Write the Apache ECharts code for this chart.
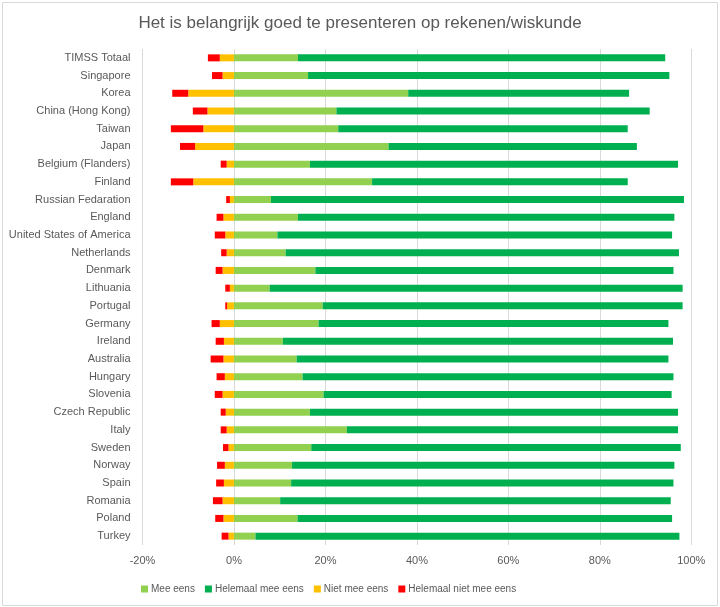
<!DOCTYPE html>
<html>
<head>
<meta charset="utf-8">
<script src="https://cdn.jsdelivr.net/npm/echarts@6/dist/echarts.min.js"></script>
<style>html,body{margin:0;padding:0;background:#fff}#c{width:720px;height:607px}</style>
</head>
<body>
<div id="c"></div>
<script>
const categories = ["TIMSS Totaal","Singapore","Korea","China (Hong Kong)","Taiwan","Japan","Belgium (Flanders)","Finland","Russian Fedaration","England","United States of America","Netherlands","Denmark","Lithuania","Portugal","Germany","Ireland","Australia","Hungary","Slovenia","Czech Republic","Italy","Sweden","Norway","Spain","Romania","Poland","Turkey"];
const meeEens = [14.0,16.2,38.1,22.4,22.8,33.8,16.6,30.2,8.1,14.0,9.5,11.3,17.8,7.8,19.4,18.5,10.7,13.7,15.0,19.6,16.6,24.7,16.9,12.7,12.5,10.1,13.9,4.7];
const helemaalMeeEens = [80.3,79.0,48.3,68.5,63.3,54.3,80.5,55.9,90.3,82.3,86.3,86.0,78.3,90.3,78.7,76.5,85.3,81.3,81.1,76.1,80.5,72.4,80.8,83.6,83.6,85.4,81.9,92.7];
const nietMeeEens = [3.1,2.5,10.0,5.8,6.7,8.5,1.6,8.9,0.9,2.3,1.9,1.6,2.5,0.9,1.5,3.1,2.2,2.3,2.0,2.5,1.8,1.6,1.2,2.0,2.2,2.5,2.3,1.2];
const helemaalNietMeeEens = [2.6,2.3,3.5,3.2,7.1,3.3,1.3,4.9,0.8,1.5,2.3,1.2,1.5,1.0,0.4,1.8,1.8,2.8,1.8,1.7,1.1,1.3,1.2,1.7,1.7,2.1,1.8,1.5];
const seriesNames = ["Mee eens","Helemaal mee eens","Niet mee eens","Helemaal niet mee eens"];
const colors = ["#92D050","#00B050","#FFC000","#FF0000"];

const font = "Liberation Sans";
const chart = echarts.init(document.getElementById('c'));
const neg = a => a.map(v => -v);
const dataSets = [meeEens, helemaalMeeEens, neg(nietMeeEens), neg(helemaalNietMeeEens)];
chart.setOption({
  animation: false,
  textStyle: {fontFamily: font},
  title: {text: "Het is belangrijk goed te presenteren op rekenen/wiskunde", left: 'center', top: 10,
    textStyle: {fontFamily: font, fontSize: 17, fontWeight: 'normal', color: '#595959'}},
  legend: {left: 136, top: 579, itemWidth: 7, itemHeight: 7, itemGap: 10, icon: 'rect',
    textStyle: {fontFamily: font, fontSize: 10, color: '#595959', padding: [0, 0, 0, -2]}, data: seriesNames},
  grid: {left: 142.5, right: 28.7, top: 49, bottom: 62, containLabel: false},
  xAxis: {type: 'value', min: -20, max: 100, interval: 20,
    axisLabel: {formatter: v => v + '%', color: '#595959', fontSize: 11, margin: 10},
    axisLine: {show: false}, axisTick: {show: false},
    splitLine: {lineStyle: {color: '#d9d9d9', width: 1}}},
  yAxis: {type: 'category', data: categories, inverse: true,
    axisLine: {show: false, onZero: false}, axisTick: {show: false},
    axisLabel: {color: '#595959', fontSize: 11, margin: 12}},
  series: seriesNames.map((n, i) => ({
    name: n, type: 'bar', stack: 'total', barWidth: 7, data: dataSets[i],
    itemStyle: {color: colors[i]}
  })),
  graphic: [{type: 'rect', left: 0, top: 0, shape: {x: 1.5, y: 1.5, width: 715, height: 603},
    style: {fill: null, stroke: '#d9d9d9', lineWidth: 1}, silent: true}]
});
</script>
</body>
</html>
